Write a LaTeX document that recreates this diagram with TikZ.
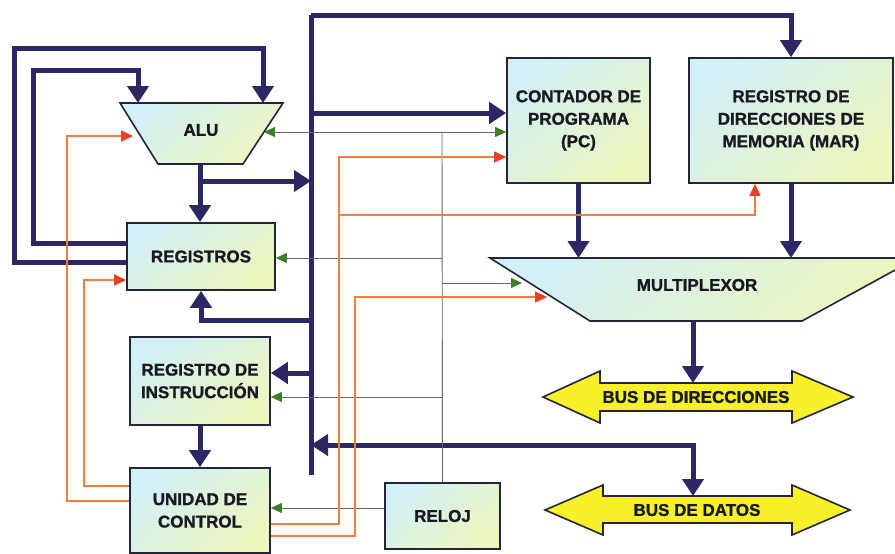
\documentclass[tikz,border=0pt]{standalone}
\usepackage{fontspec}
\setmainfont{Liberation Sans}[BoldFeatures={FakeBold=1.2}]
\usetikzlibrary{arrows.meta,calc}

\definecolor{busnavy}{RGB}{43,40,100}
\definecolor{edgecol}{RGB}{35,37,60}
\definecolor{paleblue}{RGB}{210,240,246}
\definecolor{paleyellow}{RGB}{236,246,190}
\definecolor{ctlorange}{RGB}{240,125,60}
\definecolor{ctlred}{RGB}{236,62,32}
\definecolor{clkgray}{RGB}{105,105,105}
\definecolor{clkgreen}{RGB}{62,128,40}
\definecolor{busyellow}{RGB}{248,240,40}
\definecolor{txtcol}{RGB}{25,25,35}

\tikzset{
  lbl/.style={font=\fontsize{17}{22.5}\selectfont\bfseries, text=txtcol, align=center, inner sep=0pt},
  blockfill/.style={top color=paleblue, bottom color=paleyellow, shading angle=40},
  blockbox/.style={draw=edgecol, line width=1.6pt, blockfill, lbl},
  busshape/.style={fill=busyellow, draw=edgecol, line width=1.6pt, line join=miter},
  bus/.style={draw=busnavy, line width=5pt, line join=miter},
  busarrow/.style={bus, -{Triangle[width=21pt,length=17pt]}},
  busboth/.style={bus, {Triangle[width=21pt,length=17pt]}-{Triangle[width=21pt,length=17pt]}},
  clk/.style={draw=clkgray, line width=0.9pt},
  clkarrow/.style={clk, -{Triangle[width=10pt,length=11pt,color=clkgreen]}},
  ctl/.style={draw=ctlorange, line width=1.2pt, line join=miter},
  ctlarrow/.style={ctl, -{Triangle[width=11pt,length=12pt,color=ctlred]}}
}

\begin{document}
\begin{tikzpicture}[x=1pt,y=-1pt]
\useasboundingbox (0,0) rectangle (895,554);
\clip (0,0) rectangle (895,554);

% ---- rectangular blocks ----
\node[blockbox, minimum width=143pt, minimum height=125pt] (pc) at (578.5,120.5) {CONTADOR DE\\PROGRAMA\\(PC)};
\node[blockbox, minimum width=204pt, minimum height=125pt] (mar) at (791,120.5) {REGISTRO DE\\DIRECCIONES DE\\MEMORIA (MAR)};
\node[blockbox, minimum width=148pt, minimum height=67pt] (reg) at (201,256.5) {REGISTROS};
\node[blockbox, minimum width=140pt, minimum height=88pt] (ri) at (200,381) {REGISTRO DE\\INSTRUCCIÓN};
\node[blockbox, minimum width=140pt, minimum height=85pt] (uc) at (200,510.5) {UNIDAD DE\\CONTROL};
\node[blockbox, minimum width=115pt, minimum height=66pt] (reloj) at (442.5,516) {RELOJ};

% ---- ALU (trapezoid, wide side up) ----
\coordinate (aluTL) at (120,103);
\coordinate (aluTR) at (283,103);
\coordinate (aluBR) at (243,164);
\coordinate (aluBL) at (158,164);
\path[blockfill, draw=edgecol, line width=1.6pt, line join=miter] (aluTL) -- (aluTR) -- (aluBR) -- (aluBL) -- cycle;
\node[lbl] (alu) at (201,130) {ALU};
\coordinate (aluR) at ($(aluTR)!0.475!(aluBR)$);

% ---- multiplexer (trapezoid, wide side up) ----
\coordinate (muxTL) at (490,258);
\coordinate (muxTR) at (917,258);
\coordinate (muxBR) at (802,321);
\coordinate (muxBL) at (590,321);
\path[blockfill, draw=edgecol, line width=1.6pt, line join=miter] (muxTL) -- (muxTR) -- (muxBR) -- (muxBL) -- cycle;
\node[lbl] (mux) at (697,285) {MULTIPLEXOR};
\coordinate (muxTop) at (0,258);
\coordinate (muxBot) at (693,321);

% ---- external buses (double-headed arrows) ----
\path[busshape] (543,397) -- (600,371) -- (600,383) -- (792,383) -- (792,371) -- (853,397)
  -- (792,423) -- (792,411) -- (600,411) -- (600,423) -- cycle;
\node[lbl] (bdir) at (696,397) {BUS DE DIRECCIONES};
\coordinate (bdirTop) at (693,383);

\path[busshape] (545,510) -- (603,485) -- (603,496) -- (792,496) -- (792,485) -- (850,510)
  -- (792,535) -- (792,523) -- (603,523) -- (603,535) -- cycle;
\node[lbl] (bdat) at (697,510) {BUS DE DATOS};
\coordinate (bdatTop) at (693,496);

% ---- internal data bus ----
\coordinate (busTop) at (311,15);
\coordinate (busBot) at (311,475);
\draw[bus] (busTop) -- (busBot);
\draw[busarrow] (busTop) -| (mar.north);
\coordinate (jPC) at (311,113);
\draw[busarrow] (jPC) -- (jPC -| pc.west);
\coordinate (aluBot) at (200,164);
\draw[busarrow] (aluBot) -- (aluBot |- reg.north);
\coordinate (aluOut) at (200,181);
\draw[busarrow] (aluOut) -- (aluOut -| busTop);
\coordinate (jReg) at (311,320);
\draw[busarrow] (jReg) -| (reg.south);
\coordinate (jRI) at (311,373);
\draw[busarrow] (jRI) -- (jRI -| ri.east);
\draw[busarrow] (ri.south) -- (uc.north);
\coordinate (jData) at (311,445);
\draw[busboth] (jData) -| (bdatTop);

% register feedback into both ALU inputs
\draw[busarrow] (reg.west |- 0,262) -| (14,48) -| (263,103);
\draw[busarrow] (reg.west |- 0,243) -| (33,70) -| (138,103);

% address path
\draw[busarrow] (pc.south) -- (pc.south |- muxTop);
\draw[busarrow] (mar.south) -- (mar.south |- muxTop);
\draw[busarrow] (muxBot) -- (bdirTop);

% ---- clock distribution ----
\coordinate (ck1) at (442,132);
\coordinate (ck2) at (442,258);
\coordinate (ck3) at (442,283);
\coordinate (ck4) at (442,397);
\coordinate (muxClk) at (522,283);
\draw[clk] (reloj.north) -- (ck1);
\draw[clkarrow] (ck1) -- (ck1 -| aluR);
\draw[clkarrow] (ck1) -- (ck1 -| pc.west);
\draw[clkarrow] (ck2) -- (ck2 -| reg.east);
\draw[clkarrow] (ck3) -- (muxClk);
\draw[clkarrow] (ck4) -- (ck4 -| ri.east);
\draw[clkarrow] (reloj.west |- 0,508) -- (uc.east |- 0,508);

% ---- control signals ----
\coordinate (cMar) at (339,215);
\coordinate (muxCtl) at (547,297);
\draw[ctlarrow] (uc.east |- 0,524) -| (339,157) -- (pc.west |- 0,157);
\draw[ctlarrow] (cMar) -| ($(mar.south)+(-36,0)$);
\draw[ctlarrow] (uc.east |- 0,536) -| (355,297) -- (muxCtl);
\draw[ctlarrow] (uc.west |- 0,486) -| (84,280) -- (reg.west |- 0,280);
\draw[ctlarrow] (uc.west |- 0,501) -| (67,136) -- (133,136);
\end{tikzpicture}
\end{document}
